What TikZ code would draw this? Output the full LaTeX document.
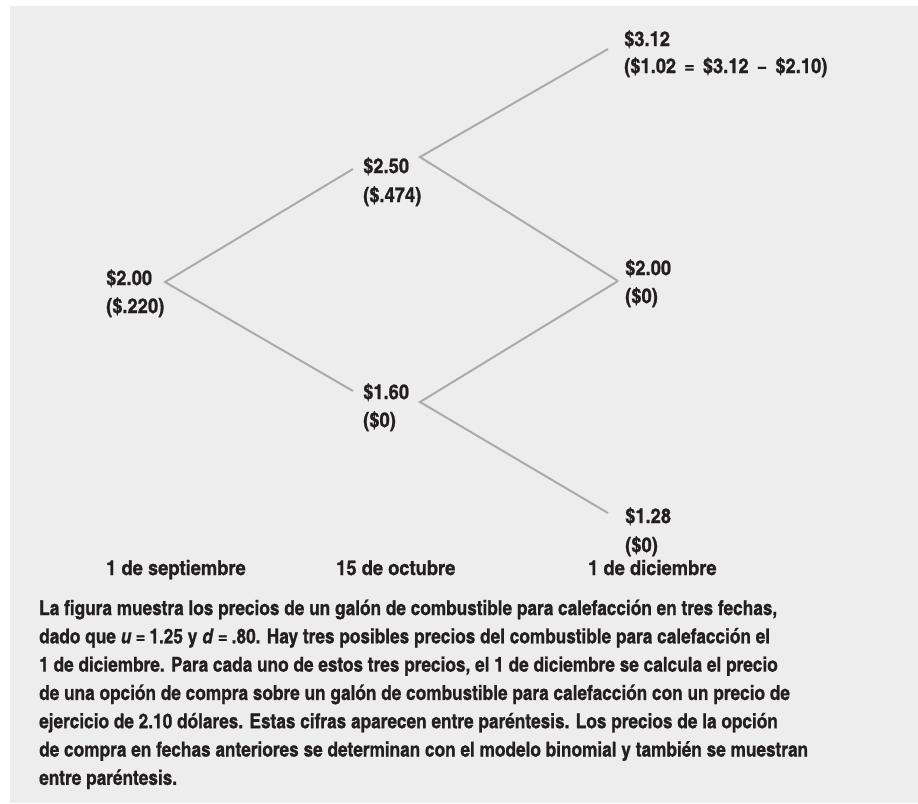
\documentclass[tikz,border=0pt]{standalone}
\usepackage{fontspec}
\setmainfont{texgyreheroscn}[Extension=.otf, UprightFont=*-bold, BoldFont=*-bold, ItalicFont=*-bolditalic, BoldItalicFont=*-bolditalic, FakeStretch=1.025, FakeBold=0.9]
\newfontfamily\lblfont{texgyreheroscn}[Extension=.otf, UprightFont=*-bold, BoldFont=*-bold, ItalicFont=*-bolditalic, BoldItalicFont=*-bolditalic, FakeStretch=1.09, FakeBold=0.9]
\definecolor{panel}{HTML}{EDEDED}
\definecolor{edgegray}{HTML}{ABABAB}
\definecolor{ink}{HTML}{231F20}
\begin{document}
\begin{tikzpicture}[x=1pt,y=-1pt,
  captxt/.style={anchor=base west, inner sep=0pt, text=ink, font=\fontsize{20.5}{28}\selectfont},
  lbl/.style={captxt, font=\lblfont\fontsize{20.5}{28}\selectfont},
  branch/.style={draw=edgegray, line width=2pt}]
\useasboundingbox (0,0) rectangle (918,803);
\fill[white] (0,0) rectangle (918,803);
\fill[panel] (10,6) rectangle (918,803);
% price nodes
\node[lbl] (p0) at (106,285) {\$2.00};
\node[lbl] (o0) at (106,313) {(\$.220)};
\node[lbl] (p1) at (363,173) {\$2.50};
\node[lbl] (o1) at (363,202) {(\$.474)};
\node[lbl] (p2) at (363,399) {\$1.60};
\node[lbl] (o2) at (363,427) {(\$0)};
\node[lbl] (p3) at (624,46) {\$3.12};
\node[lbl] (o3) at (624,73) {(\$1.02\hspace{8pt}=\hspace{8pt}\$3.12\hspace{8pt}−\hspace{8pt}\$2.10)};
\node[lbl] (p4) at (625,275) {\$2.00};
\node[lbl] (o4) at (625,303) {(\$0)};
\node[lbl] (p5) at (625,523) {\$1.28};
\node[lbl] (o5) at (625,552) {(\$0)};
% connector ends
\coordinate (v0) at (165,282);
\coordinate (i1) at (353,169);
\coordinate (i2) at (353,391);
\coordinate (v1) at (420,157);
\coordinate (v2) at (420,402);
\coordinate (i3) at (608,49);
\coordinate (i4) at (618,281);
\coordinate (i5) at (608,513);
\draw[branch] (i1) -- (v0) -- (i2);
\draw[branch] (i3) -- (v1) -- (i4);
\draw[branch] (i4) -- (v2) -- (i5);
% dates
\node[lbl] (d0) at (106,575) {1 de septiembre};
\node[lbl] (d1) at (336,575) {15 de octubre};
\node[lbl] (d2) at (588,575) {1 de diciembre};
% caption
\node[captxt] (c1) at (39,615) {La figura muestra los precios de un galón de combustible para calefacción en tres fechas,};
\node[captxt] (c2) at (39,643.3) {dado que \textit{u}\hspace{4pt}=\hspace{4pt}1.25 y \textit{d}\hspace{4pt}=\hspace{4pt}.80. Hay tres posibles precios del combustible para calefacción el};
\node[captxt] (c3) at (39,671.6) {1 de diciembre. Para cada uno de estos tres precios, el 1 de diciembre se calcula el precio};
\node[captxt] (c4) at (39,699.9) {de una opción de compra sobre un galón de combustible para calefacción con un precio de};
\node[captxt] (c5) at (39,728.2) {ejercicio de 2.10 dólares. Estas cifras aparecen entre paréntesis. Los precios de la opción};
\node[captxt] (c6) at (39,756.5) {de compra en fechas anteriores se determinan con el modelo binomial y también se muestran};
\node[captxt] (c7) at (39,784.8) {entre paréntesis.};
\end{tikzpicture}
\end{document}
